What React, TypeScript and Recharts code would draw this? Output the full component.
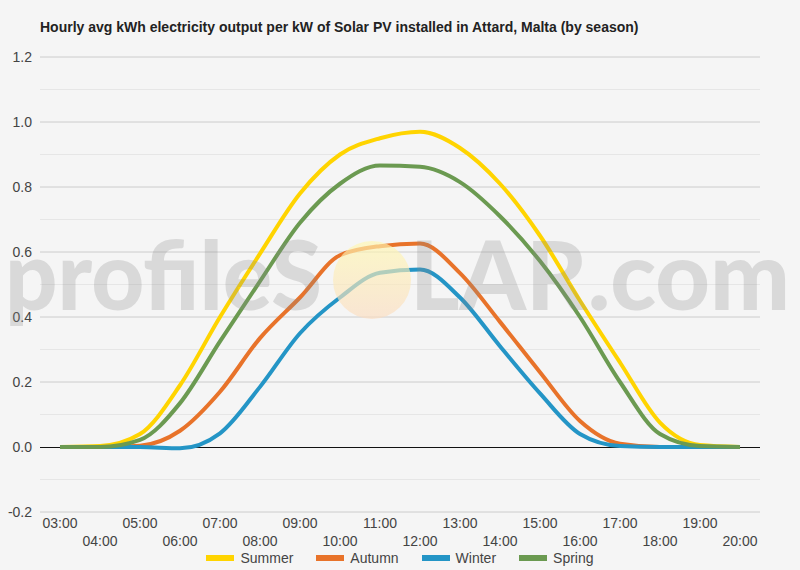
import React from 'react';
import { LineChart, Line, XAxis, YAxis, CartesianGrid, ReferenceLine, Legend } from 'recharts';

const hours = [
  '03:00', '04:00', '05:00', '06:00', '07:00', '08:00', '09:00', '10:00', '11:00',
  '12:00', '13:00', '14:00', '15:00', '16:00', '17:00', '18:00', '19:00', '20:00',
];

const summer = [0, 0.003, 0.04, 0.19, 0.4, 0.595, 0.78, 0.9, 0.95, 0.97, 0.92, 0.81, 0.65, 0.45, 0.26, 0.075, 0.006, 0];
const autumn = [0, 0, 0.004, 0.05, 0.17, 0.335, 0.46, 0.59, 0.618, 0.626, 0.535, 0.385, 0.23, 0.08, 0.01, 0, 0, 0];
const winter = [0, 0, 0, -0.004, 0.042, 0.185, 0.35, 0.46, 0.536, 0.546, 0.46, 0.31, 0.165, 0.04, 0.003, 0, 0, 0];
const spring = [0, 0, 0.022, 0.135, 0.325, 0.51, 0.69, 0.81, 0.866, 0.862, 0.815, 0.71, 0.572, 0.4, 0.2, 0.04, 0.003, 0];

const yTicks = [-0.2, 0, 0.2, 0.4, 0.6, 0.8, 1.0, 1.2];
const majorGrid = [-0.2, 0.2, 0.4, 0.6, 0.8, 1.0, 1.2];
const minorGrid = [-0.1, 0.1, 0.3, 0.5, 0.7, 0.9, 1.1];

const series = [
  { key: 'Summer', values: summer, color: '#ffd400' },
  { key: 'Autumn', values: autumn, color: '#e8732a' },
  { key: 'Winter', values: winter, color: '#2495c6' },
  { key: 'Spring', values: spring, color: '#6b9a51' },
];

const data = hours.map((h, i) => {
  const row: Record<string, number | string> = { hour: h };
  series.forEach(s => { row[s.key] = s.values[i]; });
  return row;
});

const FONT = 'Arial, "Liberation Sans", sans-serif';

function HourTick({ x, y, payload, index }: any) {
  return (
    <text x={x} y={y} dy={index % 2 ? 26 : 8} textAnchor="middle" fill="#444" fontSize={14} fontFamily={FONT}>
      {payload.value}
    </text>
  );
}

// legend keeps the series order instead of the sorted payload
function SeasonLegend() {
  return (
    <div style={{ display: 'flex', justifyContent: 'center', gap: 23, fontFamily: FONT, fontSize: 14, color: '#444' }}>
      {series.map(s => (
        <div key={s.key} style={{ display: 'flex', alignItems: 'center' }}>
          <span style={{ display: 'inline-block', width: 28, height: 6, background: s.color, marginRight: 6 }} />
          {s.key}
        </div>
      ))}
    </div>
  );
}

export default function App() {
  return (
    <div style={{ position: 'relative', width: 800, height: 570, background: '#f5f5f5', overflow: 'hidden' }}>
      <style>{'body{margin:0}'}</style>
      <div style={{ position: 'absolute', left: 40, top: 19, fontFamily: FONT, fontSize: 14, fontWeight: 'bold', color: '#222' }}>
        Hourly avg kWh electricity output per kW of Solar PV installed in Attard, Malta (by season)
      </div>
      <LineChart width={800} height={570} data={data} margin={{ top: 57, right: 40, left: 0, bottom: 2 }}>
        <CartesianGrid vertical={false} horizontalValues={minorGrid} stroke="#e6e6e6" />
        <CartesianGrid vertical={false} horizontalValues={majorGrid} stroke="#cccccc" />
        <XAxis
          dataKey="hour"
          axisLine={false}
          tickLine={false}
          interval={0}
          height={38}
          padding={{ left: 20, right: 20 }}
          tick={<HourTick />}
        />
        <YAxis
          type="number"
          domain={[-0.2, 1.2]}
          ticks={yTicks}
          width={40}
          axisLine={false}
          tickLine={false}
          tickFormatter={(v: number) => v.toFixed(1)}
          tick={{ fill: '#444', fontSize: 14, fontFamily: FONT }}
        />
        <ReferenceLine y={0} stroke="#111" strokeWidth={1} shapeRendering="crispEdges" />
        <Legend
          verticalAlign="bottom"
          height={18}
          content={<SeasonLegend />}
          wrapperStyle={{ left: 0, width: 800 }}
        />
        {series.map(s => (
          <Line
            key={s.key}
            dataKey={s.key}
            type="monotone"
            stroke={s.color}
            strokeWidth={4}
            dot={false}
            activeDot={false}
            isAnimationActive={false}
          />
        ))}
      </LineChart>
      <svg width={800} height={570} style={{ position: 'absolute', left: 0, top: 0, pointerEvents: 'none' }}>
        <defs>
          <linearGradient id="sun" x1="0" y1="0" x2="0" y2="1">
            <stop offset="0%" stopColor="#fff8b0" />
            <stop offset="100%" stopColor="#fbdcc0" />
          </linearGradient>
        </defs>
        <text x={5} y={310} fontFamily="Lato, sans-serif" fontWeight={900} fontSize={95} fill="#8c8c8c" opacity={0.26}
          textLength={317} lengthAdjust="spacingAndGlyphs">
          profileS
        </text>
        <circle cx={372} cy={280} r={39} fill="url(#sun)" opacity={0.65} />
        <text x={410} y={310} fontFamily="Lato, sans-serif" fontWeight={900} fontSize={95} fill="#8c8c8c" opacity={0.26}
          textLength={380} lengthAdjust="spacingAndGlyphs">
          LAR.com
        </text>
      </svg>
    </div>
  );
}
